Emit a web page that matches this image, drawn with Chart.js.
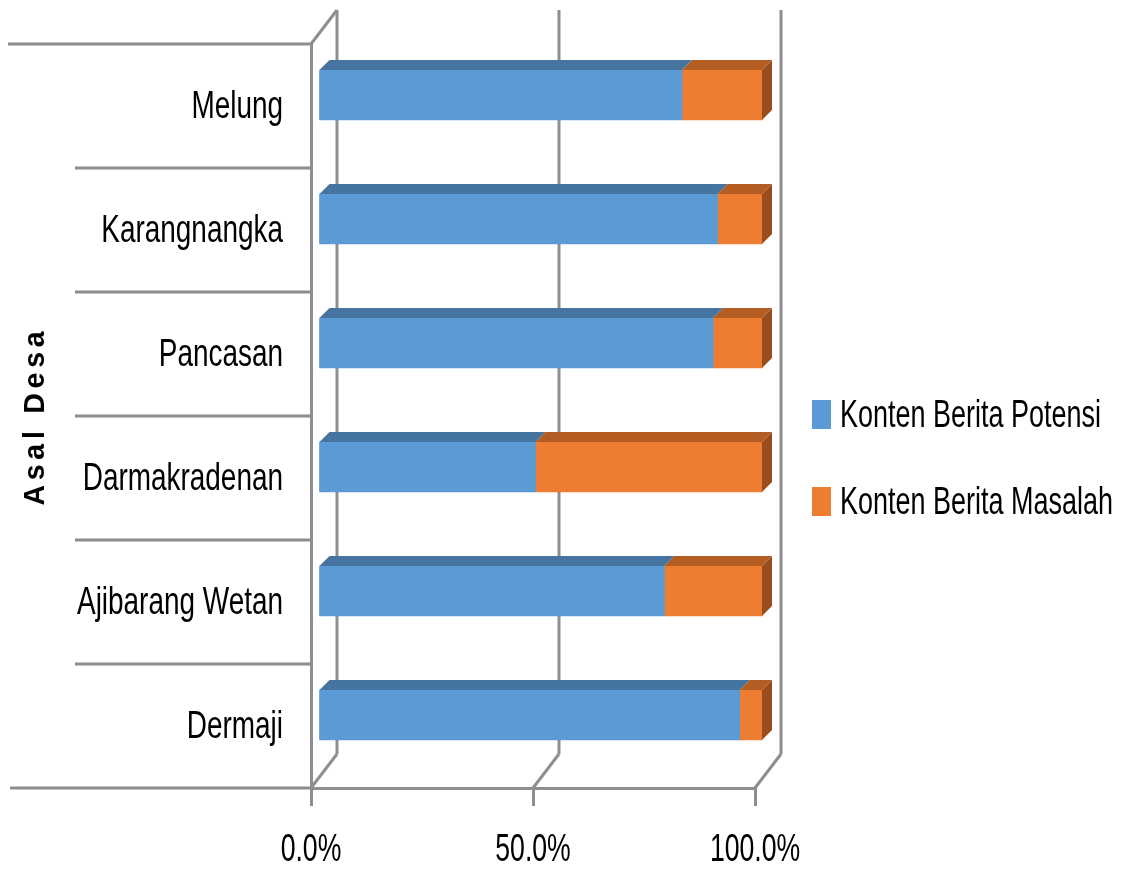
<!DOCTYPE html>
<html>
<head>
<meta charset="utf-8">
<script src="https://cdn.jsdelivr.net/npm/chart.js@4/dist/chart.umd.min.js"></script>
<style>
  body { margin: 0; background: #fff; }
  #wrap { position: relative; width: 1123px; height: 869px; }
  .legend-item { position: absolute; left: 812px; display: flex; align-items: center; white-space: nowrap;
    font-family: 'Liberation Sans', Arial, sans-serif; font-size: 38px; color: #000; }
  .legend-item span.box { display: inline-block; width: 19px; height: 29px; margin-right: 9px; flex: none; }
  .legend-item span.txt { display: inline-block; transform: scaleX(0.71); transform-origin: left center; }
</style>
</head>
<body>
<div id="wrap">
  <canvas id="chart" width="1123" height="869"></canvas>
  <div id="legend"></div>
</div>
<script>
const labels = ['Melung', 'Karangnangka', 'Pancasan', 'Darmakradenan', 'Ajibarang Wetan', 'Dermaji'];
const potensi = [82, 90, 89, 49, 78, 95];
const masalah = [18, 10, 11, 51, 22, 5];
const xTickValues = [0, 50, 100];
const seriesNames = ['Konten Berita Potensi', 'Konten Berita Masalah'];
const axisTitle = 'Asal Desa';

const frontColors = ['#5b9bd5', '#ed7d31'];
const topColors = ['#44749f', '#b35d22'];
const sideColor = '#9a4d1b';
const lineColor = '#8e8e8e';
const labelFont = "38px 'Liberation Sans', Arial, sans-serif";

// 3d offsets: wall depth, bar shift inside the box, bar depth
const WX = 26, WY = -34;
const BX = 7, BY = -11;
const BD = 10;

function line(ctx, x1, y1, x2, y2) {
  ctx.beginPath();
  ctx.moveTo(x1, y1);
  ctx.lineTo(x2, y2);
  ctx.stroke();
}

// the original text is tall and narrow, so squeeze it sideways
function narrowText(ctx, text, x, y, align, squeeze) {
  ctx.save();
  ctx.translate(x, y);
  ctx.scale(squeeze, 1);
  ctx.font = labelFont;
  ctx.fillStyle = '#000';
  ctx.textAlign = align;
  ctx.textBaseline = 'middle';
  ctx.fillText(text, 0, 0);
  ctx.restore();
}

const box3d = {
  id: 'box3d',
  beforeDatasetsDraw(chart) {
    const { ctx, chartArea: a, scales: { x, y } } = chart;
    ctx.save();
    ctx.strokeStyle = lineColor;
    ctx.lineWidth = 3;

    // back wall gridlines + floor diagonals
    xTickValues.forEach(v => {
      const px = x.getPixelForValue(v);
      line(ctx, px + WX, a.top + WY, px + WX, a.bottom + WY);
      line(ctx, px, a.bottom, px + WX, a.bottom + WY);
    });
    // left wall top edge
    line(ctx, a.left, a.top, a.left + WX, a.top + WY);

    // category separators on the left
    const band = y.getPixelForValue(1) - y.getPixelForValue(0);
    for (let k = 0; k <= labels.length; k++) {
      const py = y.getPixelForValue(k) - band / 2;
      let x0 = 75;
      if (k === 0) x0 = 8;
      if (k === labels.length) x0 = 10;
      line(ctx, x0, py, a.left, py);
    }
    ctx.restore();

    ctx.save();
    ctx.translate(BX, BY);
  },
  afterDatasetsDraw(chart) {
    const { ctx } = chart;
    const last = chart.data.datasets.length - 1;
    chart.data.datasets.forEach((ds, i) => {
      const meta = chart.getDatasetMeta(i);
      meta.data.forEach(bar => {
        const p = bar.getProps(['x', 'y', 'base', 'height'], true);
        const top = p.y - p.height / 2;
        const bot = p.y + p.height / 2;
        ctx.fillStyle = topColors[i];
        ctx.beginPath();
        ctx.moveTo(p.base, top);
        ctx.lineTo(p.x, top);
        ctx.lineTo(p.x + BD, top - BD);
        ctx.lineTo(p.base + BD, top - BD);
        ctx.closePath();
        ctx.fill();
        if (i === last) {
          ctx.fillStyle = sideColor;
          ctx.beginPath();
          ctx.moveTo(p.x, top);
          ctx.lineTo(p.x + BD, top - BD);
          ctx.lineTo(p.x + BD, bot - BD);
          ctx.lineTo(p.x, bot);
          ctx.closePath();
          ctx.fill();
        }
      });
    });
    ctx.restore();
  },
  afterDraw(chart) {
    const { ctx, chartArea: a, scales: { x, y } } = chart;
    // category labels
    y.ticks.forEach((t, i) => {
      narrowText(ctx, labels[i], a.left - 28, y.getPixelForTick(i) + 2, 'right', 0.735);
    });
    // value labels
    x.ticks.forEach((t, i) => {
      narrowText(ctx, t.value.toFixed(1) + '%', x.getPixelForTick(i), 851, 'center', 0.7);
    });
    // axis title, rotated and spaced out
    ctx.save();
    ctx.translate(36, (a.top + a.bottom) / 2 + 2);
    ctx.rotate(-Math.PI / 2);
    ctx.scale(0.95, 1);
    ctx.font = "bold 30px 'Liberation Sans', Arial, sans-serif";
    ctx.letterSpacing = '5px';
    ctx.fillStyle = '#000';
    ctx.textAlign = 'center';
    ctx.textBaseline = 'middle';
    ctx.fillText(axisTitle, 2, 0);
    ctx.restore();
  }
};

new Chart(document.getElementById('chart'), {
  type: 'bar',
  data: {
    labels: labels,
    datasets: [
      { label: seriesNames[0], data: potensi, backgroundColor: frontColors[0], barThickness: 50, clip: false },
      { label: seriesNames[1], data: masalah, backgroundColor: frontColors[1], barThickness: 50, clip: false }
    ]
  },
  options: {
    indexAxis: 'y',
    responsive: false,
    animation: false,
    layout: { padding: { top: 44, right: 368, left: 0, bottom: 0 } },
    plugins: {
      legend: { display: false },
      tooltip: { enabled: false }
    },
    scales: {
      x: {
        stacked: true,
        min: 0,
        max: 100,
        afterFit: s => { s.height = 81; },
        afterBuildTicks: s => { s.ticks = xTickValues.map(v => ({ value: v })); },
        grid: { display: true, drawOnChartArea: false, drawTicks: true, tickLength: 18, color: lineColor, lineWidth: 3 },
        border: { display: true, color: lineColor, width: 3 },
        ticks: { display: false }
      },
      y: {
        stacked: true,
        afterFit: s => { s.width = 311; },
        grid: { display: true, drawOnChartArea: false, drawTicks: false },
        border: { display: true, color: lineColor, width: 3 },
        ticks: { display: false }
      }
    }
  },
  plugins: [box3d]
});

// legend
const legend = document.getElementById('legend');
const legendTops = [393, 480];
seriesNames.forEach((name, i) => {
  const item = document.createElement('div');
  item.className = 'legend-item';
  item.style.top = legendTops[i] + 'px';
  item.innerHTML = '<span class="box" style="background:' + frontColors[i] + '"></span><span class="txt">' + name + '</span>';
  legend.appendChild(item);
});
</script>
</body>
</html>
